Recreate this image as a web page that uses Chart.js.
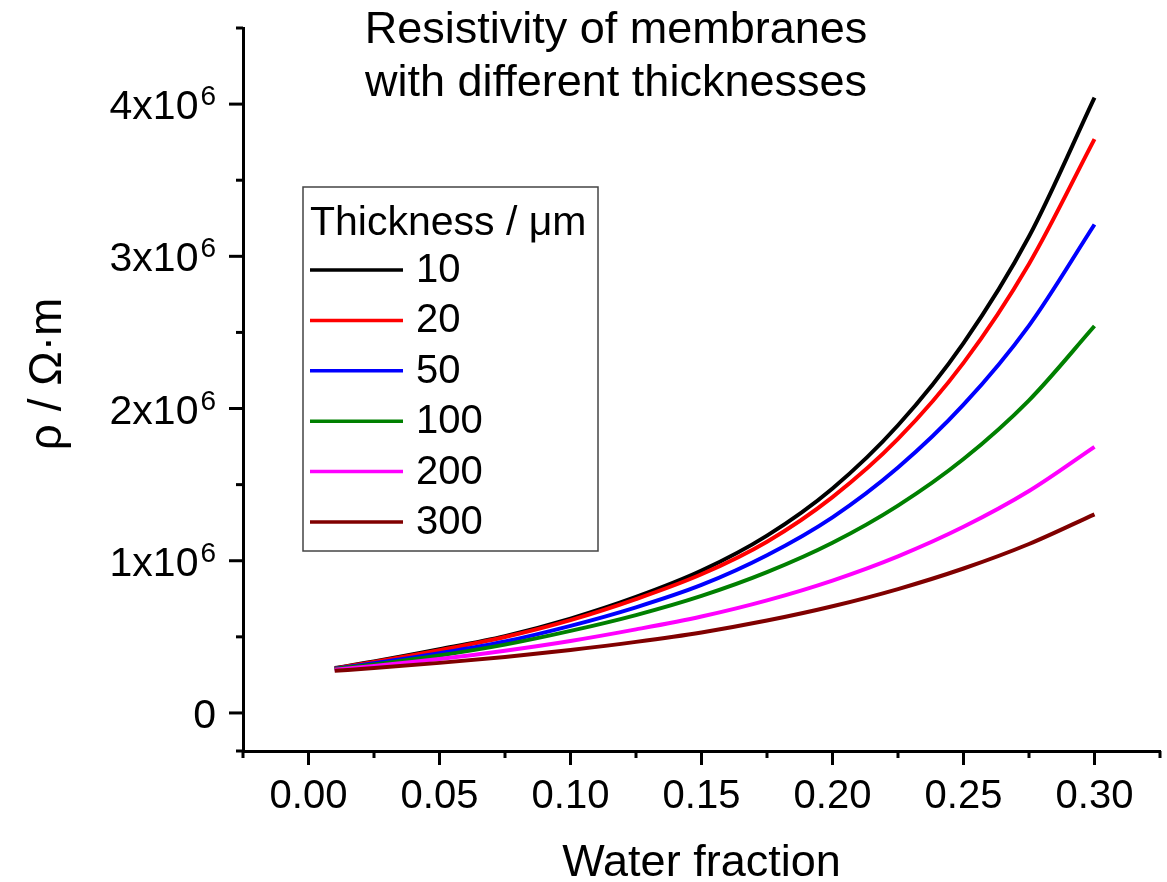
<!DOCTYPE html>
<html>
<head>
<meta charset="utf-8">
<script src="https://cdn.jsdelivr.net/npm/chart.js"></script>
<style>
html, body { margin: 0; padding: 0; background: #fff; }
#wrap { width: 1167px; height: 882px; }
</style>
</head>
<body>
<div id="wrap"><canvas id="myChart"></canvas></div>
<script>
// values, rho in ohm*m
const waterFraction = [0.01, 0.025, 0.05, 0.075, 0.10, 0.125, 0.15, 0.175, 0.20, 0.225, 0.25, 0.275, 0.30];
const rho10  = [295000, 338000, 418000, 505000, 620000, 762000, 935000, 1165000, 1475000, 1890000, 2430000, 3130000, 4043000];
const rho20  = [293000, 335000, 412000, 499000, 610000, 748000, 911000, 1125000, 1418000, 1800000, 2300000, 2950000, 3770000];
const rho50  = [290000, 326000, 392000, 469000, 572000, 694000, 841000, 1036000, 1285000, 1612000, 2025000, 2545000, 3209000];
const rho100 = [288000, 319000, 378000, 449000, 539000, 643000, 769000, 925000, 1118000, 1362000, 1668000, 2054000, 2542000];
const rho200 = [284000, 308000, 354000, 409000, 473000, 549000, 634000, 740000, 870000, 1029000, 1223000, 1458000, 1748000];
const rho300 = [277000, 295000, 329000, 368000, 414000, 467000, 529000, 607000, 701000, 814000, 949000, 1110000, 1305000];

const thicknessLabels = ['10', '20', '50', '100', '200', '300'];
const seriesColors = ['#000000', '#ff0000', '#0000ff', '#008000', '#ff00ff', '#800000'];

const xMajorTicks = [0.00, 0.05, 0.10, 0.15, 0.20, 0.25, 0.30];
const xTickLabels = ['0.00', '0.05', '0.10', '0.15', '0.20', '0.25', '0.30'];
const xMinorTicks = [-0.025, 0.025, 0.075, 0.125, 0.175, 0.225, 0.275, 0.325];
const yMajorTicks = [0, 1e6, 2e6, 3e6, 4e6];
const yTickMantissa = ['0', '1x10', '2x10', '3x10', '4x10'];
const yTickExponent = ['', '6', '6', '6', '6'];
const yMinorTicks = [-0.25e6, 0.5e6, 1.5e6, 2.5e6, 3.5e6, 4.5e6];

const FONT = '"Liberation Sans", Arial, sans-serif';

function pts(ys) {
    return waterFraction.map((x, i) => ({ x: x, y: ys[i] }));
}

const allSeries = [rho10, rho20, rho50, rho100, rho200, rho300];
const datasets = allSeries.map((ys, i) => ({
    label: thicknessLabels[i],
    data: pts(ys),
    borderColor: seriesColors[i],
    backgroundColor: seriesColors[i],
    borderWidth: 4,
    pointRadius: 0,
    showLine: true,
    fill: false,
    cubicInterpolationMode: 'monotone',
    order: allSeries.length - i
}));

// ticks, labels, title and legend drawn by hand, positions from the scales
const decorations = {
    id: 'decorations',
    afterDraw(chart) {
        const ctx = chart.ctx;
        const xs = chart.scales.x;
        const ys = chart.scales.y;
        const area = chart.chartArea;
        ctx.save();
        ctx.strokeStyle = '#000';
        ctx.fillStyle = '#000';
        ctx.lineWidth = 3;

        // x ticks
        xMajorTicks.forEach(v => {
            const px = xs.getPixelForValue(v);
            ctx.beginPath(); ctx.moveTo(px, area.bottom); ctx.lineTo(px, area.bottom + 14); ctx.stroke();
        });
        xMinorTicks.forEach(v => {
            const px = xs.getPixelForValue(v);
            ctx.beginPath(); ctx.moveTo(px, area.bottom); ctx.lineTo(px, area.bottom + 7); ctx.stroke();
        });
        // y ticks
        yMajorTicks.forEach(v => {
            const py = ys.getPixelForValue(v);
            ctx.beginPath(); ctx.moveTo(area.left, py); ctx.lineTo(area.left - 14, py); ctx.stroke();
        });
        yMinorTicks.forEach(v => {
            const py = ys.getPixelForValue(v);
            ctx.beginPath(); ctx.moveTo(area.left, py); ctx.lineTo(area.left - 7, py); ctx.stroke();
        });

        // x tick labels
        ctx.font = '40px ' + FONT;
        ctx.textAlign = 'center';
        ctx.textBaseline = 'alphabetic';
        xMajorTicks.forEach((v, i) => {
            ctx.fillText(xTickLabels[i], xs.getPixelForValue(v), area.bottom + 57);
        });

        // y tick labels with superscript
        yMajorTicks.forEach((v, i) => {
            const py = ys.getPixelForValue(v);
            const right = area.left - 27;
            ctx.textAlign = 'right';
            let supW = 0;
            if (yTickExponent[i]) {
                ctx.font = '28px ' + FONT;
                supW = ctx.measureText(yTickExponent[i]).width + 2;
                ctx.fillText(yTickExponent[i], right, py + 1);
            }
            ctx.font = '41px ' + FONT;
            ctx.fillText(yTickMantissa[i], right - supW, py + 15);
        });

        // axis titles
        ctx.font = '45px ' + FONT;
        ctx.textAlign = 'center';
        ctx.fillText('Water fraction', (area.left + area.right) / 2, 876);
        ctx.save();
        ctx.translate(61, 374);
        ctx.rotate(-Math.PI / 2);
        ctx.font = '46px ' + FONT;
        ctx.fillText('\u03c1 / \u03a9\u00b7m', 0, 0);
        ctx.restore();

        // chart title
        ctx.font = '45px ' + FONT;
        ctx.fillText('Resistivity of membranes', 616, 43);
        ctx.fillText('with different thicknesses', 616, 96);

        // legend box
        const bx = 303, by = 187, bw = 295, bh = 364;
        ctx.fillStyle = '#fff';
        ctx.fillRect(bx, by, bw, bh);
        ctx.strokeStyle = '#444';
        ctx.lineWidth = 1.5;
        ctx.strokeRect(bx, by, bw, bh);
        ctx.fillStyle = '#000';
        ctx.textAlign = 'left';
        ctx.font = '41px ' + FONT;
        ctx.fillText('Thickness / \u03bcm', 310, 235);
        ctx.font = '40px ' + FONT;
        chart.data.datasets.forEach((ds, i) => {
            const ly = 270 + i * 50.4;
            ctx.strokeStyle = ds.borderColor;
            ctx.lineWidth = 3.5;
            ctx.beginPath(); ctx.moveTo(310, ly); ctx.lineTo(403, ly); ctx.stroke();
            ctx.fillStyle = '#000';
            ctx.textBaseline = 'middle';
            ctx.fillText(ds.label, 416, ly + 1);
        });
        ctx.restore();
    }
};

new Chart('myChart', {
    type: 'scatter',
    data: { datasets: datasets },
    options: {
        responsive: true,
        maintainAspectRatio: false,
        animation: false,
        devicePixelRatio: 1,
        layout: { padding: { top: 28, right: 7, left: 0, bottom: 0 } },
        plugins: {
            legend: { display: false },
            title: { display: false },
            tooltip: { enabled: false }
        },
        scales: {
            x: {
                type: 'linear',
                min: -0.025,
                max: 0.325,
                ticks: { display: false },
                grid: { drawOnChartArea: false, drawTicks: false },
                border: { display: true, color: '#000', width: 3 },
                afterFit(scale) { scale.height = 131; }
            },
            y: {
                type: 'linear',
                min: -250000,
                max: 4500000,
                ticks: { display: false },
                grid: { drawOnChartArea: false, drawTicks: false },
                border: { display: true, color: '#000', width: 3 },
                afterFit(scale) { scale.width = 243; }
            }
        }
    },
    plugins: [decorations]
});
</script>
</body>
</html>
